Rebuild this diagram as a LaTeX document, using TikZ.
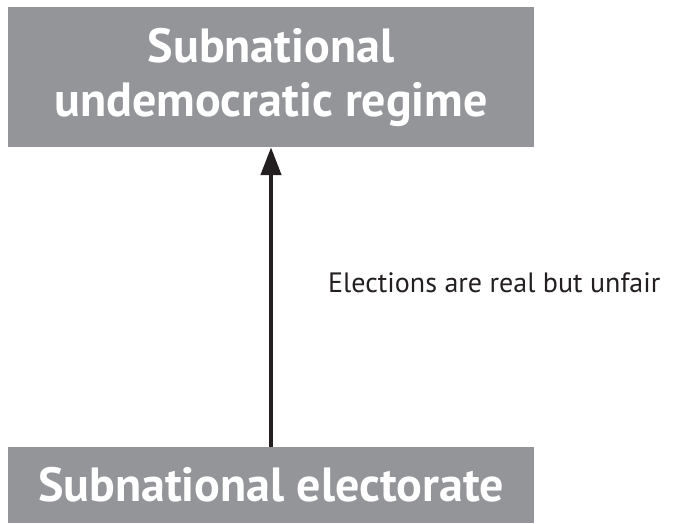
\documentclass[tikz,border=0pt]{standalone}
\usepackage{fontspec}
\setmainfont{PT Sans}
\usetikzlibrary{arrows.meta, positioning}
\definecolor{boxgray}{HTML}{939598}
\definecolor{inkdark}{HTML}{231F20}
\tikzset{
  regimebox/.style={rectangle, fill=boxgray, text=white, align=center, minimum width=526pt, inner sep=0pt, font=\fontsize{48}{54}\selectfont\bfseries},
  linkarrow/.style={-{Triangle[length=28pt, width=20pt]}, line width=4.5pt, draw=inkdark},
  linklabel/.style={text=inkdark, anchor=west, inner sep=0pt, font=\fontsize{28}{32}\selectfont}
}
\begin{document}
\begin{tikzpicture}
  \useasboundingbox (0pt,0pt) rectangle (692pt,523pt);
  \node[regimebox, minimum height=140pt] (regime) at (271pt,446pt) {Subnational\\undemocratic regime};
  \node[regimebox, minimum height=76pt] (elect) at (271pt,38pt) {Subnational electorate};
  \node[linklabel] (fair) at (328pt,240pt) {Elections are real but unfair};
  \draw[linkarrow] (elect) -- (regime);
\end{tikzpicture}
\end{document}
